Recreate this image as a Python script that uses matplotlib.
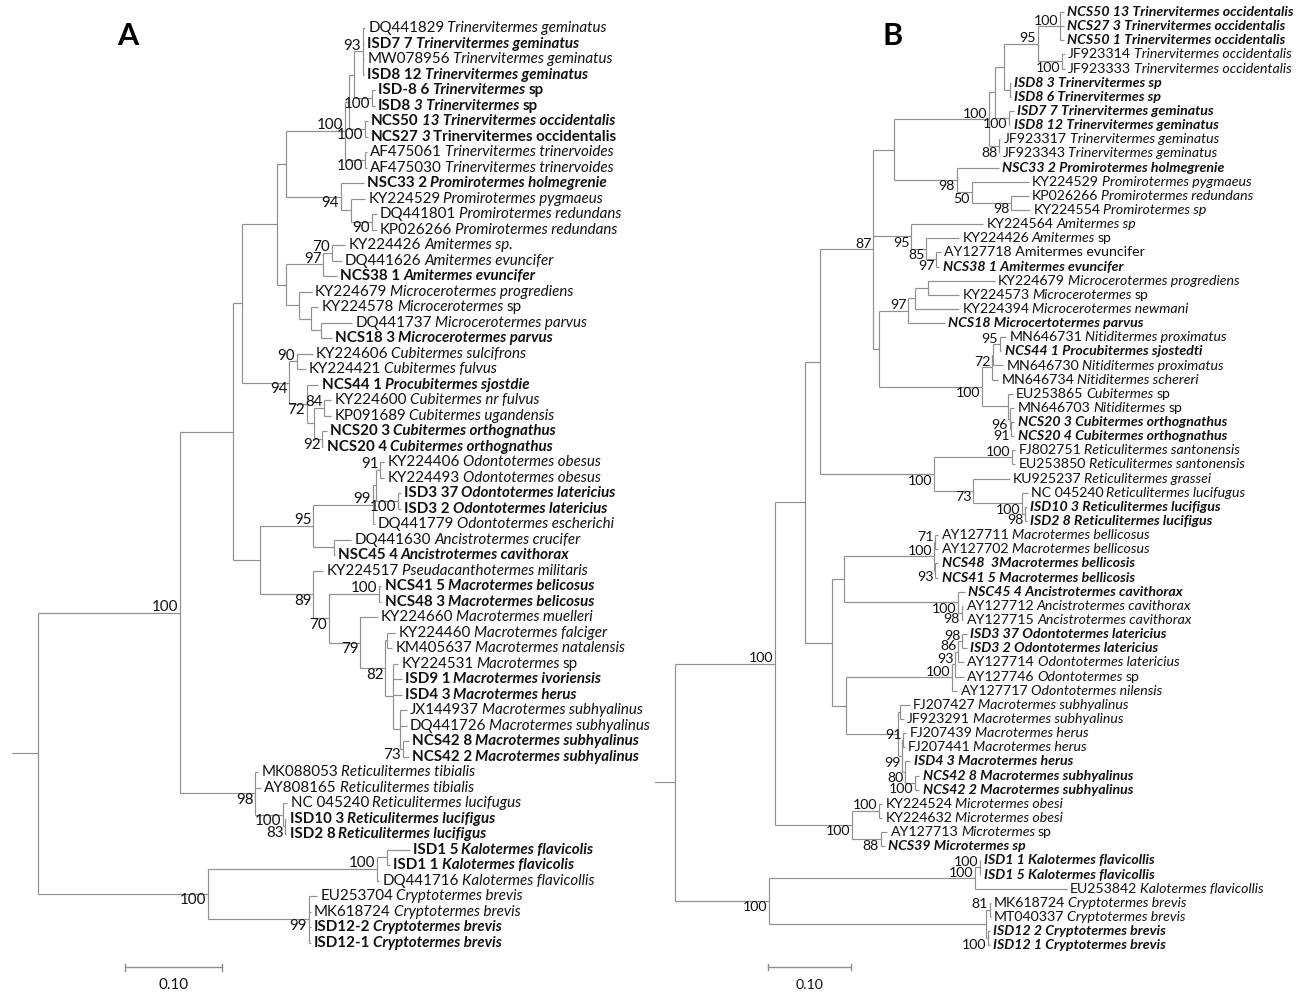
import matplotlib
matplotlib.use('Agg')
import matplotlib.pyplot as plt

plt.rcParams['font.family'] = ['Lato', 'DejaVu Sans']

W, H = 1311, 996

# ---------------- DATA: panel A ----------------
leaves_A = [
    "DQ441829 _Trinervitermes geminatus_",
    "ISD7 7 _Trinervitermes geminatus_",
    "MW078956 _Trinervitermes geminatus_",
    "ISD8 12 _Trinervitermes geminatus_",
    "ISD-8 6 _Trinervitermes_ sp",
    "ISD8 _3 Trinervitermes_ sp",
    "NCS50 _13 Trinervitermes occidentalis_",
    "NCS27 _3_ Trinervitermes occidentalis",
    "AF475061 _Trinervitermes trinervoides_",
    "AF475030 _Trinervitermes trinervoides_",
    "NSC33 2 _Promirotermes holmegrenie_",
    "KY224529 _Promirotermes pygmaeus_",
    "DQ441801 _Promirotermes redundans_",
    "KP026266 _Promirotermes redundans_",
    "KY224426 _Amitermes sp._",
    "DQ441626 _Amitermes evuncifer_",
    "NCS38 1 _Amitermes evuncifer_",
    "KY224679 _Microcerotermes progrediens_",
    "KY224578 _Microcerotermes_ sp",
    "DQ441737 _Microcerotermes parvus_",
    "NCS18 3 _Microcerotermes parvus_",
    "KY224606 _Cubitermes sulcifrons_",
    "KY224421 _Cubitermes fulvus_",
    "NCS44 1 _Procubitermes sjostdie_",
    "KY224600 _Cubitermes nr fulvus_",
    "KP091689 _Cubitermes ugandensis_",
    "NCS20 3 _Cubitermes orthognathus_",
    "NCS20 4 _Cubitermes orthognathus_",
    "KY224406 _Odontotermes obesus_",
    "KY224493 _Odontotermes obesus_",
    "ISD3 37 _Odontotermes latericius_",
    "ISD3 2 _Odontotermes latericius_",
    "DQ441779 _Odontotermes escherichi_",
    "DQ441630 _Ancistrotermes crucifer_",
    "NSC45 4 _Ancistrotermes cavithorax_",
    "KY224517 _Pseudacanthotermes militaris_",
    "NCS41 5 _Macrotermes belicosus_",
    "NCS48 3 _Macrotermes belicosus_",
    "KY224660 _Macrotermes muelleri_",
    "KY224460 _Macrotermes falciger_",
    "KM405637 _Macrotermes natalensis_",
    "KY224531 _Macrotermes_ sp",
    "ISD9 1 _Macrotermes ivoriensis_",
    "ISD4 3 _Macrotermes herus_",
    "JX144937 _Macrotermes subhyalinus_",
    "DQ441726 _Macrotermes subhyalinus_",
    "NCS42 8 _Macrotermes subhyalinus_",
    "NCS42 2 _Macrotermes subhyalinus_",
    "MK088053 _Reticulitermes tibialis_",
    "AY808165 _Reticulitermes tibialis_",
    "NC 045240 _Reticulitermes lucifugus_",
    "ISD10 3 _Reticulitermes lucifigus_",
    "ISD2 8 _Reticulitermes lucifigus_",
    "ISD1 5 _Kalotermes flavicolis_",
    "ISD1 1 _Kalotermes flavicolis_",
    "DQ441716 _Kalotermes flavicollis_",
    "EU253704 _Cryptotermes brevis_",
    "MK618724 _Cryptotermes brevis_",
    "ISD12-2 _Cryptotermes brevis_",
    "ISD12-1 _Cryptotermes brevis_",
]
bold_A = [2, 4, 5, 6, 7, 8, 11, 17, 21, 24, 27, 28, 31, 32, 35, 37, 38,
          43, 44, 47, 48, 52, 53, 54, 55, 59, 60]

# Newick: leaf numbers, bootstrap as node label, branch lengths in 0.001 subst/site
tree_A = (
    "((((((((((1:2,2:1,3:1,4:1)93:9,(5:3,6:3)100:18):5,(7:3,8:3)100:16):5,"
    "(9:2,10:2)100:21)100:60,"
    "(11:24,(12:14,(13:5,14:5)90:21):11)94:56):10,"
    "(((15:14,16:10)70:9,17:14)97:38,"
    "(18:13,(19:8,(20:32,21:11):11):12):13):10):36,"
    "((22:16,23:9)90:8,"
    "(24:12,((25:7,26:7)84:10,(27:5,28:1)92:8):8)72:18)94:49):9,"
    "(((((29:4,30:4)91:5,(31:3,32:3)100:23):3,33:2)99:61,(34:18,35:1):21)95:55,"
    "(36:10,((37:2,38:2)100:52,"
    "(39:18,((40:8,41:5):2,(42:5,43:9,44:9,(45:7,46:7,(47:6,48:6)73:3):7):8)82:26)79:32"
    ")70:16)89:55):28):55,"
    "(49:3,50:6,(51:4,(52:1,53:1)83:2)100:29)98:78)100:146,"
    "(((54:23,55:3):11,56:3)100:174,(57:9,58:2,59:2,60:2)99:104)100:175):27"
)

# ---------------- DATA: panel B ----------------
leaves_B = [
    "_NCS50 13 Trinervitermes occidentalis_",
    "_NCS27 3 Trinervitermes occidentalis_",
    "_NCS50 1 Trinervitermes occidentalis_",
    "JF923314 _Trinervitermes occidentalis_",
    "JF923333 _Trinervitermes occidentalis_",
    "_ISD8 3 Trinervitermes sp_",
    "_ISD8 6 Trinervitermes sp_",
    "_ISD7 7 Trinervitermes geminatus_",
    "_ISD8 12 Trinervitermes geminatus_",
    "JF923317 _Trinervitermes geminatus_",
    "JF923343 _Trinervitermes geminatus_",
    "_NSC33 2 Promirotermes holmegrenie_",
    "KY224529 _Promirotermes pygmaeus_",
    "KP026266 _Promirotermes redundans_",
    "KY224554 _Promirotermes sp_",
    "KY224564 _Amitermes sp_",
    "KY224426 _Amitermes_ sp",
    "AY127718 Amitermes evuncifer",
    "_NCS38 1 Amitermes evuncifer_",
    "KY224679 _Microcerotermes progrediens_",
    "KY224573 _Microcerotermes_ sp",
    "KY224394 _Microcerotermes newmani_",
    "_NCS18 Microcertotermes parvus_",
    "MN646731 _Nitiditermes proximatus_",
    "_NCS44 1 Procubitermes sjostedti_",
    "MN646730 _Nitiditermes proximatus_",
    "MN646734 _Nitiditermes schereri_",
    "EU253865 _Cubitermes_ sp",
    "MN646703 _Nitiditermes_ sp",
    "_NCS20 3 Cubitermes orthognathus_",
    "_NCS20 4 Cubitermes orthognathus_",
    "FJ802751 _Reticulitermes santonensis_",
    "EU253850 _Reticulitermes santonensis_",
    "KU925237 _Reticulitermes grassei_",
    "NC 045240 _Reticulitermes lucifugus_",
    "_ISD10 3 Reticulitermes lucifigus_",
    "_ISD2 8 Reticulitermes lucifigus_",
    "AY127711 _Macrotermes bellicosus_",
    "AY127702 _Macrotermes bellicosus_",
    "_NCS48  3Macrotermes bellicosis_",
    "_NCS41 5 Macrotermes bellicosis_",
    "_NSC45 4 Ancistrotermes cavithorax_",
    "AY127712 _Ancistrotermes cavithorax_",
    "AY127715 _Ancistrotermes cavithorax_",
    "_ISD3 37 Odontotermes latericius_",
    "_ISD3 2 Odontotermes latericius_",
    "AY127714 _Odontotermes latericius_",
    "AY127746 _Odontotermes_ sp",
    "AY127717 _Odontotermes nilensis_",
    "FJ207427 _Macrotermes subhyalinus_",
    "JF923291 _Macrotermes subhyalinus_",
    "FJ207439 _Macrotermes herus_",
    "FJ207441 _Macrotermes herus_",
    "_ISD4 3 Macrotermes herus_",
    "_NCS42 8 Macrotermes subhyalinus_",
    "_NCS42 2 Macrotermes subhyalinus_",
    "KY224524 _Microtermes obesi_",
    "KY224632 _Microtermes obesi_",
    "AY127713 _Microtermes_ sp",
    "_NCS39 Microtermes sp_",
    "_ISD1 1 Kalotermes flavicollis_",
    "_ISD1 5 Kalotermes flavicollis_",
    "EU253842 _Kalotermes flavicollis_",
    "MK618724 _Cryptotermes brevis_",
    "MT040337 _Cryptotermes brevis_",
    "_ISD12 2 Cryptotermes brevis_",
    "_ISD12 1 Cryptotermes brevis_",
]
bold_B = [1, 2, 3, 6, 7, 8, 9, 12, 19, 23, 25, 30, 31, 36, 37, 40, 41, 42,
          45, 46, 54, 55, 56, 60, 61, 62, 66, 67]

tree_B = (
    "(((((((((((1:5,2:5,3:5)100:27,(4:4,5:4)100:29)95:41,(6:0.5,7:0.5):8):10,"
    "(8:6,9:2)100:16):8,(10:2,11:0.5)88:12)100:115,"
    "(12:51,(13:69,(14:21,15:23)98:48)50:18)98:76):25,"
    "(16:87,(17:40,(18:6,19:4)97:12)85:18)95:46,"
    "((((20:81,21:38):16,22:54):8,23:45)97:35,"
    "((((24:8,25:2)95:8,26:12):1,27:7)72:12,"
    "(28:6,(29:6,(30:4,31:4)91:2)96:2):31)100:125):7)87:65,"
    "((32:4,33:4)100:94,(34:44,(35:7,(36:2,37:2)98:4)100:59)73:47)100:139):18,"
    "((((38:4,39:4)71:2,(40:4,41:4)93:2)100:108,(42:8,(43:2,44:2)98:4)100:138):15,"
    "(((((45:5,46:5)98:5,47:7)86:4,48:11)93:4,49:7)100:128,"
    "((50:12,51:5):2,((52:4,53:2)91:1,(54:6,(55:5,56:5)100:12)80:4)99:5):63):17):33):36,"
    "((57:4,58:4)100:33,(59:8,60:5)88:35)100:93)100:121,"
    "(((61:0.5,62:0.5)100:6,63:111)100:249,"
    "((64:1.2,65:1.2)81:4,(66:2,67:2)100:2):263)100:114):28"
)

scale_value = 0.10

# ---------------- helpers ----------------
def parse_newick(s):
    s = ''.join(s.split())
    pos = 0

    def node():
        nonlocal pos
        n = {'children': [], 'leaf': None, 'boot': None, 'bl': 0.0}
        if s[pos] == '(':
            pos += 1
            while True:
                n['children'].append(node())
                if s[pos] == ',':
                    pos += 1
                    continue
                if s[pos] == ')':
                    pos += 1
                    break
        start = pos
        while pos < len(s) and s[pos] not in ':,);':
            pos += 1
        lab = s[start:pos]
        if n['children']:
            n['boot'] = lab or None
        else:
            n['leaf'] = int(lab)
        if pos < len(s) and s[pos] == ':':
            pos += 1
            start = pos
            while pos < len(s) and s[pos] not in ',);':
                pos += 1
            n['bl'] = float(s[start:pos]) / 1000.0
        return n
    return node()


def layout(n, parent_x):
    n['x'] = parent_x + n['bl']
    n['px'] = parent_x
    if n['children']:
        for c in n['children']:
            layout(c, n['x'])
        n['y'] = (n['children'][0]['y'] + n['children'][-1]['y']) / 2.0
    else:
        n['y'] = n['leaf'] - 1


LINE = '#8f8f8f'
TXT = '#111111'


def segments(label):
    parts = label.split('_')
    out = []
    for i, p in enumerate(parts):
        if p == '':
            continue
        out.append((p, i % 2 == 1))
    res = []
    for p, it in out:
        lead = len(p) - len(p.lstrip(' '))
        res.append([p.strip(' '), it, lead > 0, p.endswith(' ')])
    return res


def draw_tree(ax, root, leaves, bolds, fs, space_pt):
    stack = [root]
    while stack:
        n = stack.pop()
        ax.plot([n['px'], n['x']], [n['y'], n['y']], color=LINE, lw=0.85,
                solid_capstyle='butt')
        if n['children']:
            ch = n['children']
            ax.plot([n['x'], n['x']], [ch[0]['y'], ch[-1]['y']], color=LINE,
                    lw=0.85, solid_capstyle='butt')
            for k, c in enumerate(ch):
                stack.append(c)
                if c['children'] and c['boot']:
                    dy = 4.0 if k == 0 else -4.6
                    ax.annotate(c['boot'], xy=(c['x'], c['y']), xytext=(-1.2, dy),
                                textcoords='offset points', ha='right', va='center',
                                fontsize=fs, color=TXT)
        else:
            idx = n['leaf']
            bold = idx in bolds
            segs = segments(leaves[idx - 1])
            prev = None
            gap_pending = False
            for txt, it, lead, trail in segs:
                style = 'italic' if it else 'normal'
                weight = 'bold' if bold else 'normal'
                gap = space_pt if (gap_pending or lead) else 0.0
                if prev is None:
                    t = ax.annotate(txt, xy=(n['x'], n['y']), xytext=(2.4, 0),
                                    textcoords='offset points', ha='left', va='center',
                                    fontsize=fs, fontstyle=style, fontweight=weight,
                                    color=TXT)
                else:
                    t = ax.annotate(txt, xy=(1, 0), xycoords=prev, xytext=(gap, 0),
                                    textcoords='offset points', ha='left', va='bottom',
                                    fontsize=fs, fontstyle=style, fontweight=weight,
                                    color=TXT)
                prev = t
                gap_pending = trail


fig = plt.figure(figsize=(W / 100, H / 100), dpi=100)
renderer = fig.canvas.get_renderer()


def space_width_pt(fs):
    t1 = fig.text(0, 0, 'a a', fontsize=fs)
    t2 = fig.text(0, 0, 'aa', fontsize=fs)
    w = t1.get_window_extent(renderer).width - t2.get_window_extent(renderer).width
    t1.remove(); t2.remove()
    return 0.75 * w * 72.0 / fig.dpi


def panel(px_left, px_right, x0px, scale_px, y0px, dypx, tree_str, leaves, bolds,
          fs, title, title_px, bar_px):
    ax = fig.add_axes([px_left / W, 0, (px_right - px_left) / W, 1])
    ax.set_xlim((px_left - x0px) / scale_px, (px_right - x0px) / scale_px)
    ax.set_ylim((H - y0px) / dypx, -y0px / dypx)
    ax.axis('off')
    root = parse_newick(tree_str)
    layout(root, -root['bl'])
    draw_tree(ax, root, leaves, set(bolds), fs, space_width_pt(fs))
    bx = (bar_px[0] - x0px) / scale_px
    by = (bar_px[1] - y0px) / dypx
    tick = 3.5 / dypx
    ax.plot([bx, bx + scale_value], [by, by], color=LINE, lw=1.0)
    ax.plot([bx, bx], [by - tick, by + tick], color=LINE, lw=1.0)
    ax.plot([bx + scale_value, bx + scale_value], [by - tick, by + tick], color=LINE, lw=1.0)
    ax.annotate('%.2f' % scale_value, xy=(bx + scale_value / 2, by), xytext=(0, -13),
                textcoords='offset points', ha='center', va='center', fontsize=fs,
                color=TXT)
    fig.text(title_px[0] / W, 1 - title_px[1] / H, title, fontsize=22,
             fontweight='bold', ha='center', va='center', color='black')
    return ax


panel(0, 655, 38, 970, 28, 15.5, tree_A, leaves_A, bold_A, 10.9, 'A', (128, 36),
      (125, 967))
panel(655, 1311, 675, 826, 12, 14.14, tree_B, leaves_B, bold_B, 10.2, 'B', (893, 36),
      (768, 967))

fig.savefig('out.png', dpi=100, facecolor='white')
